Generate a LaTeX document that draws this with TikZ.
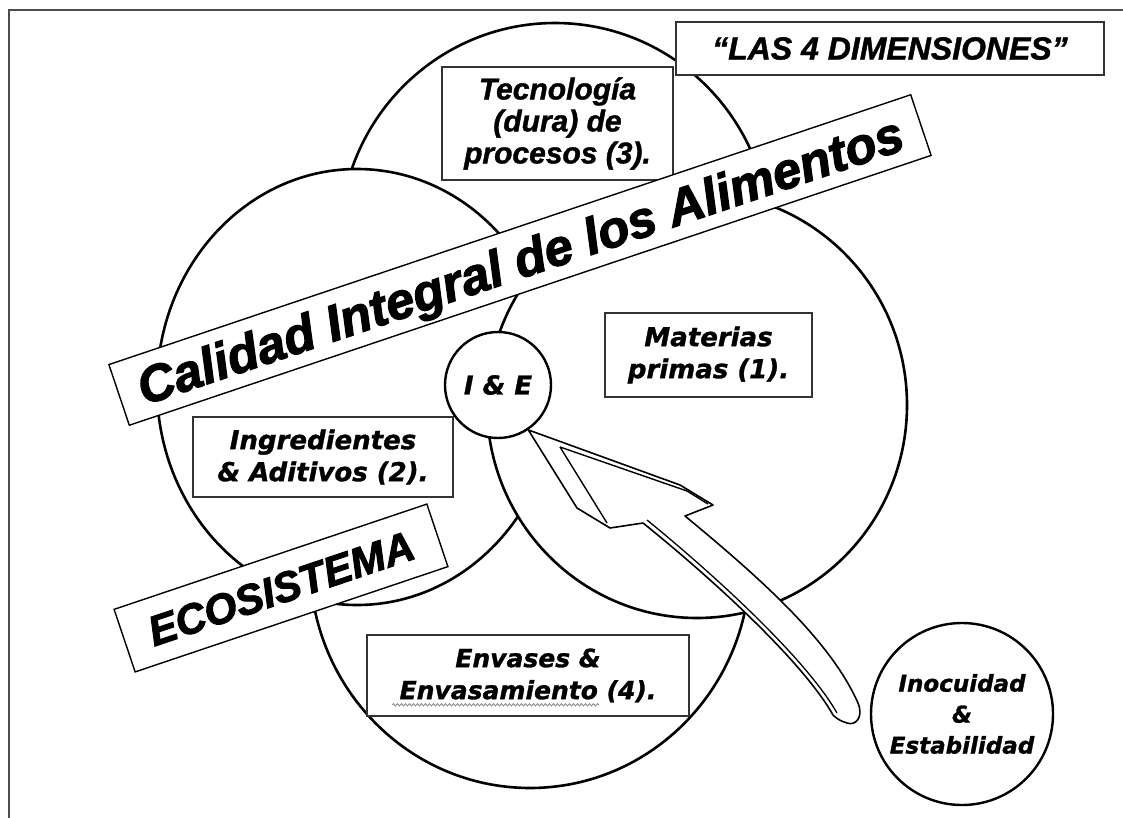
\documentclass[tikz,border=0pt]{standalone}
\usepackage{fontspec}
\setmainfont{Liberation Sans}
\newfontfamily\widefont{DejaVu Sans}[BoldItalicFeatures={FakeBold=1.2}]
\newfontfamily\arialfont{Liberation Sans}[BoldItalicFeatures={FakeBold=1.2}]
\newfontfamily\heavyfont{Liberation Sans}[BoldItalicFeatures={FakeBold=2.4}]
\usetikzlibrary{shapes.geometric,decorations.pathmorphing,calc}
\begin{document}
\begin{tikzpicture}[x=1pt,y=-1pt,
  bigc/.style={ellipse, draw, line width=2.6pt, fill=white, inner sep=0pt},
  smallc/.style={circle, draw, line width=2.4pt, fill=white, inner sep=0pt, align=center},
  boxw/.style={draw=black!80, line width=1.6pt, fill=white, inner sep=0pt, align=center,
     font=\widefont\bfseries\itshape\fontsize{26}{32}\selectfont},
  boxa/.style={draw=black!80, line width=1.6pt, fill=white, inner sep=0pt, align=center,
     font=\arialfont\bfseries\itshape\fontsize{30}{32}\selectfont},
  banner/.style={draw, line width=1.4pt, fill=white, inner sep=0pt, rotate=18.6},
  arrowline/.style={draw, line width=1.6pt, line join=round, fill=white}
]
\useasboundingbox (0,0) rectangle (1123,818);
\fill[white] (0,0) rectangle (1123,818);
% frame
\draw[line width=1.6pt, black!70] (9,818) -- (9,10) -- (1123,10);
% big circles
\node[bigc, minimum width=430pt, minimum height=434pt] (c3) at (555,240) {};
\node[bigc, minimum width=440pt, minimum height=450pt] (c4) at (530,563) {};
\node[bigc, minimum width=400pt, minimum height=436pt] (c2) at (357,387) {};
\node[bigc, minimum width=420pt, minimum height=426pt] (c1) at (697,405) {};
% I & E
\node[smallc, minimum size=106pt, font=\widefont\bfseries\itshape\fontsize{26}{30}\selectfont] (ie) at (498,385) {I \& E};
% Inocuidad
\node[smallc, minimum size=182pt, font=\widefont\bfseries\itshape\fontsize{23}{31}\selectfont] (ino) at (962,714) {Inocuidad\\\&\\Estabilidad};
% arrow
\coordinate (tip) at (ie.-56);
\path[arrowline] (tip) -- (680,485) -- (713,505) -- (685,516)
  .. controls (760,578) and (830,640) .. (858,703)
  .. controls (864,718) and (855,726) .. (847,723)
  .. controls (840,721) and (836,718) .. (833,715)
  .. controls (805,665) and (720,585) .. (643,523)
  -- (610,528) -- (577,508) -- cycle;
\draw[line width=1.4pt, line join=round] (560,447) -- (687,491) -- (708,504);
\draw[line width=1.4pt] (560,447) -- (607,523);
\draw[line width=1.3pt] (647,520) .. controls (723,582) and (808,662) .. (837,713);
% boxes
\node[boxa, minimum width=428pt, minimum height=53pt, font=\arialfont\bfseries\itshape\fontsize{32}{34}\selectfont] (las) at (890,48.5) {“LAS 4 DIMENSIONES”};
\node[boxa, minimum width=231pt, minimum height=113pt] (tec) at (557.5,123.5) {Tecnología\\(dura) de\\procesos (3).};
\node[boxw, minimum width=207pt, minimum height=84pt] (mat) at (708.5,355) {Materias\\primas (1).};
\node[boxw, minimum width=260pt, minimum height=80pt] (ing) at (323,457) {Ingredientes\\\& Aditivos (2).};
\node[boxw, minimum width=322pt, minimum height=81pt, font=\widefont\bfseries\itshape\fontsize{25}{32}\selectfont] (env) at (528,675.5) {Envases \&\\Envasamiento (4).};
\draw[black!45, line width=0.9pt, decorate, decoration={snake, amplitude=1.2pt, segment length=4pt}]
  ($(env.south west)+(26,-12)$) -- ($(env.south west)+(233,-12)$);
% banners
\node[banner, minimum width=846pt, minimum height=64pt, text height=36pt, text depth=0pt,
  font=\heavyfont\bfseries\itshape\fontsize{51}{51}\selectfont] (cal) at (520,260) {Calidad Integral de los Alimentos};
\node[banner, minimum width=330pt, minimum height=66pt, text height=30pt, text depth=0pt,
  font=\heavyfont\bfseries\itshape\fontsize{42}{42}\selectfont] (eco) at (281,588) {ECOSISTEMA};
\end{tikzpicture}
\end{document}
